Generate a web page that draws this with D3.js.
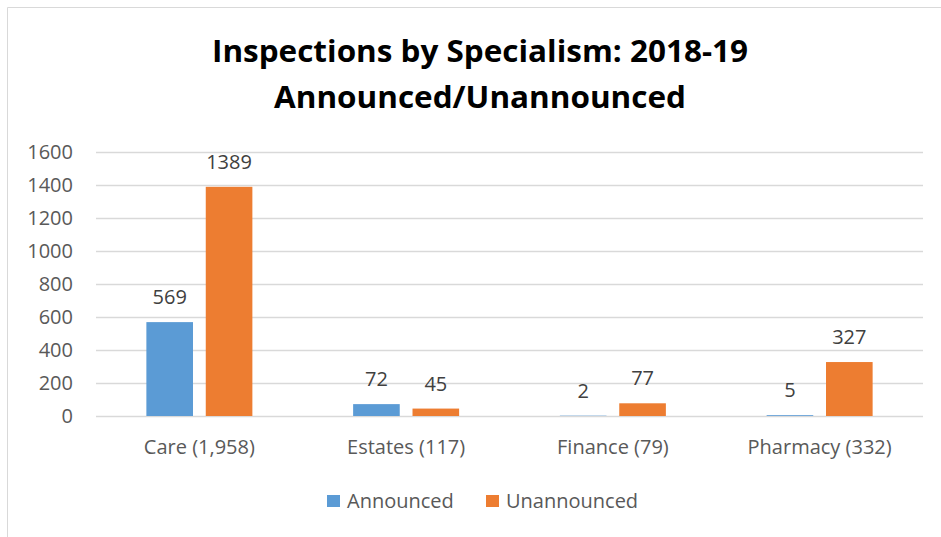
<!DOCTYPE html>
<html>
<head>
<meta charset="UTF-8" />
<title>Inspections by Specialism</title>
<script src="https://cdn.jsdelivr.net/npm/d3@7"></script>
<style>
  body { margin: 0; background: #fff; }
  text { font-family: "Open Sans", "Liberation Sans", sans-serif; }
</style>
</head>
<body>
<svg id="chart"></svg>
<script>
// data
var categories = ["Care (1,958)", "Estates (117)", "Finance (79)", "Pharmacy (332)"];
var seriesNames = ["Announced", "Unannounced"];
var announced = [569, 72, 2, 5];
var unannounced = [1389, 45, 77, 327];
var yTicks = [0, 200, 400, 600, 800, 1000, 1200, 1400, 1600];
var colors = ["#5b9bd5", "#ed7d31"];

var W = 941, H = 537;
var plotL = 96, plotR = 923, plotT = 152, plotB = 416;
var fs = 20;

var svg = d3.select("#chart").attr("width", W).attr("height", H);

// chart frame (only top/left edges visible)
svg.append("path")
  .attr("d", "M7.5," + H + "V7.5H" + W)
  .attr("fill", "none").attr("stroke", "#d9d9d9").attr("stroke-width", 1);

// title
var title = svg.append("text")
  .attr("text-anchor", "middle")
  .attr("font-weight", "bold").attr("font-size", 31).attr("fill", "#000");
title.append("tspan").attr("x", 480).attr("y", 62)
  .attr("textLength", 536).attr("lengthAdjust", "spacingAndGlyphs")
  .text("Inspections by Specialism: 2018-19");
title.append("tspan").attr("x", 480).attr("y", 108)
  .attr("textLength", 412).attr("lengthAdjust", "spacingAndGlyphs")
  .text("Announced/Unannounced");

var x0 = d3.scaleBand().domain(categories).range([plotL, plotR]);
var x1 = d3.scaleBand().domain(seriesNames).range([0, 106]).paddingInner(0.215);
var y = d3.scaleLinear().domain([0, 1600]).range([plotB, plotT]);

// gridlines
svg.append("g").selectAll("line").data(yTicks).enter().append("line")
  .attr("x1", plotL).attr("x2", plotR)
  .attr("y1", function(d){ return Math.round(y(d)) + 0.5; })
  .attr("y2", function(d){ return Math.round(y(d)) + 0.5; })
  .attr("stroke", "#d9d9d9").attr("stroke-width", 1.3);

// y axis labels
var yAxis = d3.axisLeft(y).tickValues(yTicks).tickSize(0).tickPadding(0).tickFormat(d3.format("d"));
var ya = svg.append("g").attr("transform", "translate(73,0)").call(yAxis);
ya.select(".domain").remove();
ya.selectAll("text").attr("font-size", fs).attr("fill", "#595959")
  .attr("font-family", "Open Sans, Liberation Sans, sans-serif");

// x axis labels
var xAxis = d3.axisBottom(x0).tickSize(0).tickPadding(0);
var xa = svg.append("g").attr("transform", "translate(0,440)").call(xAxis);
xa.select(".domain").remove();
xa.selectAll("text").attr("font-size", fs).attr("fill", "#595959")
  .attr("font-family", "Open Sans, Liberation Sans, sans-serif");

// bars
var rows = categories.map(function(c, i){
  return { cat: c, vals: [announced[i], unannounced[i]] };
});
var groups = svg.append("g").selectAll("g").data(rows).enter().append("g")
  .attr("transform", function(d){ return "translate(" + (x0(d.cat) + x0.bandwidth() / 2 - 53) + ",0)"; });

groups.selectAll("rect").data(function(d){ return d.vals; }).enter().append("rect")
  .attr("x", function(d, i){ return x1(seriesNames[i]); })
  .attr("width", x1.bandwidth())
  .attr("y", function(d){ return y(d); })
  .attr("height", function(d){ return plotB - y(d); })
  .attr("fill", function(d, i){ return colors[i]; });

groups.selectAll("text").data(function(d){ return d.vals; }).enter().append("text")
  .attr("x", function(d, i){ return x1(seriesNames[i]) + x1.bandwidth() / 2; })
  .attr("y", function(d){ return y(d) - 18; })
  .attr("text-anchor", "middle").attr("font-size", fs).attr("fill", "#404040")
  .text(function(d){ return d; });

// legend
var legX = [327, 486];
var leg = svg.append("g").selectAll("g").data(seriesNames).enter().append("g")
  .attr("transform", function(d, i){ return "translate(" + legX[i] + ",495)"; });
leg.append("rect").attr("width", 13).attr("height", 12)
  .attr("fill", function(d, i){ return colors[i]; });
leg.append("text").attr("x", 20).attr("y", 13).attr("font-size", fs).attr("fill", "#595959")
  .text(function(d){ return d; });
</script>
</body>
</html>
